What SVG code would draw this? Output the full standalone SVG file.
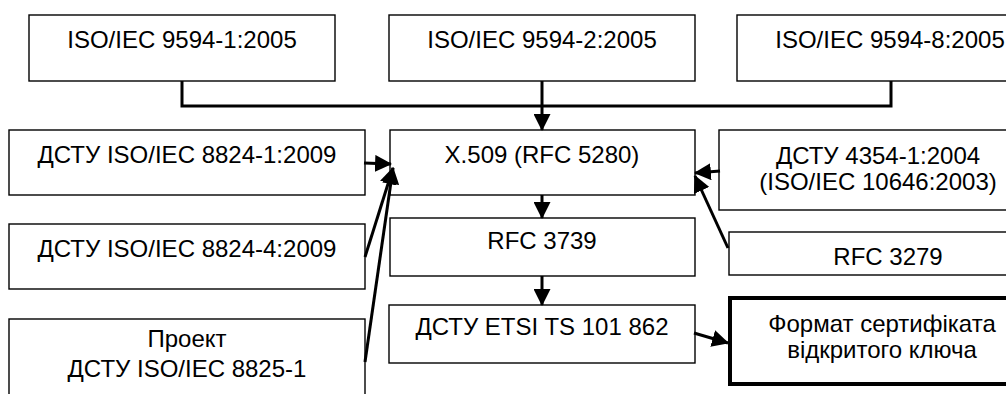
<svg xmlns="http://www.w3.org/2000/svg" width="1006" height="394" viewBox="0 0 1006 394">
  <style>
    .box { fill: #ffffff; stroke: #000000; stroke-width: 1.4; }
    .main { fill: #ffffff; stroke: #000000; stroke-width: 4; }
    .t { font-family: "Liberation Sans", Arial, sans-serif; font-size: 24px; fill: #000000; text-anchor: middle; }
    .link { fill: none; stroke: #000000; stroke-width: 3; }
  </style>
  <defs>
    <marker id="arrow" viewBox="0 0 16 16" refX="15" refY="8" markerWidth="17" markerHeight="17" markerUnits="userSpaceOnUse" orient="auto">
      <path d="M0,0 L16,8 L0,16 Z" fill="#000000"/>
    </marker>
  </defs>
  <rect width="1006" height="394" fill="#ffffff"/>

  <g id="iso9594-1">
    <rect class="box" x="29" y="15" width="306" height="66"/>
    <text class="t" x="182" y="48">ISO/IEC 9594-1:2005</text>
  </g>
  <g id="iso9594-2">
    <rect class="box" x="389" y="15" width="306" height="66"/>
    <text class="t" x="542" y="48">ISO/IEC 9594-2:2005</text>
  </g>
  <g id="iso9594-8">
    <rect class="box" x="737" y="15" width="306" height="66"/>
    <text class="t" x="890" y="48">ISO/IEC 9594-8:2005</text>
  </g>
  <g id="dstu8824-1">
    <rect class="box" x="9" y="130" width="356" height="65"/>
    <text class="t" x="187" y="163">ДСТУ ISO/IEC 8824-1:2009</text>
  </g>
  <g id="x509">
    <rect class="box" x="390" y="130" width="305" height="65"/>
    <text class="t" x="542" y="163">X.509 (RFC 5280)</text>
  </g>
  <g id="dstu4354">
    <rect class="box" x="719" y="130" width="318" height="80"/>
    <text class="t" x="878" y="164">ДСТУ 4354-1:2004</text>
    <text class="t" x="878" y="190">(ISO/IEC 10646:2003)</text>
  </g>
  <g id="dstu8824-4">
    <rect class="box" x="9" y="224" width="356" height="65"/>
    <text class="t" x="187" y="257">ДСТУ ISO/IEC 8824-4:2009</text>
  </g>
  <g id="rfc3739">
    <rect class="box" x="390" y="218" width="305" height="58"/>
    <text class="t" x="542" y="249">RFC 3739</text>
  </g>
  <g id="rfc3279">
    <rect class="box" x="729" y="232" width="318" height="43"/>
    <text class="t" x="888" y="265">RFC 3279</text>
  </g>
  <g id="project8825-1">
    <rect class="box" x="9" y="319" width="356" height="90"/>
    <text class="t" x="187" y="347">Проект</text>
    <text class="t" x="187" y="377">ДСТУ ISO/IEC 8825-1</text>
  </g>
  <g id="etsi">
    <rect class="box" x="389" y="305" width="306" height="58"/>
    <text class="t" x="542" y="335">ДСТУ ETSI TS 101 862</text>
  </g>
  <g id="certificate-format">
    <rect class="main" x="730" y="298" width="306" height="86"/>
    <text class="t" x="882" y="332">Формат сертифіката</text>
    <text class="t" x="882" y="358">відкритого ключа</text>
  </g>

  <g id="connectors">
    <polyline class="link" points="182,81 182,106 891,106 891,81"/>
    <line class="link" x1="542" y1="81" x2="542" y2="130" marker-end="url(#arrow)"/>
    <line class="link" x1="364" y1="163" x2="391" y2="164" marker-end="url(#arrow)"/>
    <line class="link" x1="365" y1="257" x2="393" y2="168" marker-end="url(#arrow)"/>
    <line class="link" x1="365" y1="362" x2="393" y2="168" marker-end="url(#arrow)"/>
    <line class="link" x1="720" y1="171" x2="695" y2="173" marker-end="url(#arrow)"/>
    <line class="link" x1="728" y1="248" x2="695" y2="176" marker-end="url(#arrow)"/>
    <line class="link" x1="542" y1="195" x2="542" y2="218" marker-end="url(#arrow)"/>
    <line class="link" x1="542" y1="276" x2="542" y2="305" marker-end="url(#arrow)"/>
    <line class="link" x1="694" y1="333" x2="728" y2="343" marker-end="url(#arrow)"/>
  </g>
</svg>
